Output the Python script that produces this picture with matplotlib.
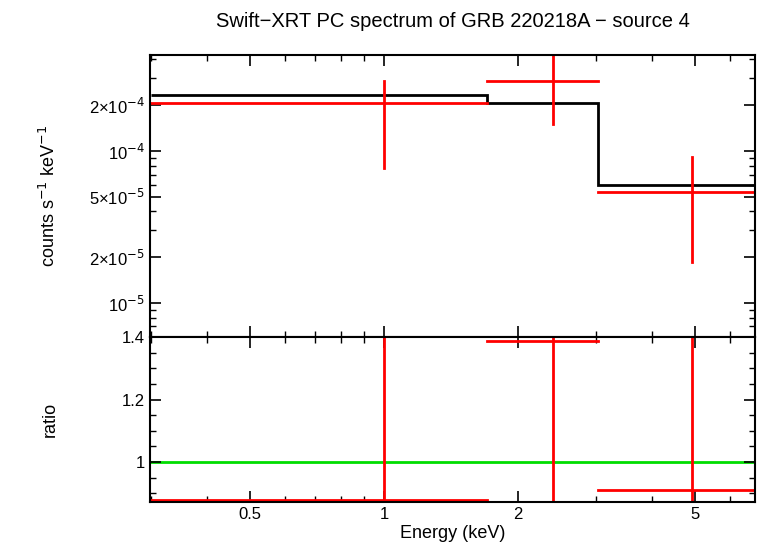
import matplotlib
matplotlib.use("Agg")
import matplotlib.pyplot as plt
from matplotlib.ticker import FixedLocator, NullFormatter

plt.rcParams["font.family"] = "Liberation Sans"

# data bins (keV)
bin_lo = [0.3, 1.7, 3.03]
bin_hi = [1.7, 3.03, 6.8]
centers = [1.0, 2.4, 4.93]
rate = [2.07e-4, 2.89e-4, 5.37e-5]
rate_lo = [7.7e-5, 1.5e-4, 1.85e-5]
rate_hi = [2.89e-4, 4.4e-4, 9.1e-5]
model = [2.34e-4, 2.07e-4, 5.97e-5]
ratio = [0.878, 1.387, 0.91]
ratio_lo = [0.5, 0.6, 0.5]
ratio_hi = [1.8, 2.2, 1.6]

fig = plt.figure(figsize=(7.58, 5.56), dpi=100)
ax1 = fig.add_axes([150 / 758, 1 - 337 / 556, 605 / 758, 282 / 556])
ax2 = fig.add_axes([150 / 758, 1 - 502 / 556, 605 / 758, 165 / 556], sharex=ax1)

RED = "#ff0000"
for i in range(3):
    ax1.plot([bin_lo[i], bin_hi[i]], [rate[i]] * 2, color=RED, lw=2)
    ax1.plot([centers[i]] * 2, [rate_lo[i], rate_hi[i]], color=RED, lw=2)
    ax2.plot([bin_lo[i], bin_hi[i]], [ratio[i]] * 2, color=RED, lw=2)
    ax2.plot([centers[i]] * 2, [ratio_lo[i], ratio_hi[i]], color=RED, lw=2)

edges = bin_lo + [bin_hi[-1]]
ax1.stairs(model, edges, color="black", lw=2, zorder=1, baseline=None)
ax2.axhline(1.0, color="#00dd00", lw=2, zorder=1)

ax1.set_xscale("log")
ax1.set_yscale("log")
ax1.set_xlim(0.298, 6.82)
ax1.set_ylim(5.97e-6, 4.28e-4)
ax2.set_ylim(0.872, 1.4)

ax1.yaxis.set_major_locator(FixedLocator([1e-5, 2e-5, 5e-5, 1e-4, 2e-4]))
ax1.set_yticklabels(["10$^{-5}$", "2×10$^{-5}$", "5×10$^{-5}$", "10$^{-4}$", "2×10$^{-4}$"])
ax1.yaxis.set_minor_locator(FixedLocator([6e-6, 7e-6, 8e-6, 9e-6, 3e-5, 4e-5, 6e-5, 7e-5, 8e-5, 9e-5, 3e-4, 4e-4]))
ax1.yaxis.set_minor_formatter(NullFormatter())
ax2.xaxis.set_major_locator(FixedLocator([0.5, 1, 2, 5]))
ax2.set_xticklabels(["0.5", "1", "2", "5"])
ax2.xaxis.set_minor_locator(FixedLocator([0.3, 0.4, 0.6, 0.7, 0.8, 0.9, 3, 4, 6]))
ax2.xaxis.set_minor_formatter(NullFormatter())
ax2.yaxis.set_major_locator(FixedLocator([1.0, 1.2, 1.4]))
ax2.set_yticklabels(["1", "1.2", "1.4"])
ax2.yaxis.set_minor_locator(FixedLocator([0.9, 0.95, 1.05, 1.1, 1.15, 1.25, 1.3, 1.35]))
plt.setp(ax1.get_xticklabels(), visible=False)

for ax in (ax1, ax2):
    ax.tick_params(which="both", direction="in", top=True, right=True, labelsize=12)
    ax.tick_params(which="major", length=8, width=1.2)
    ax.tick_params(which="minor", length=4, width=1)
    for s in ax.spines.values():
        s.set_linewidth(1.5)

ax1.set_ylabel("counts s$^{-1}$ keV$^{-1}$", fontsize=13)
ax2.set_ylabel("ratio", fontsize=13)
ax2.set_xlabel("Energy (keV)", fontsize=13, labelpad=2)
ax1.yaxis.set_label_coords(-0.15, 0.5)
ax2.yaxis.set_label_coords(-0.15, 0.5)
fig.suptitle("Swift\u2212XRT PC spectrum of GRB 220218A \u2212 source 4", fontsize=14.5, x=453 / 758, y=0.978)

fig.savefig("out.png", dpi=100)
